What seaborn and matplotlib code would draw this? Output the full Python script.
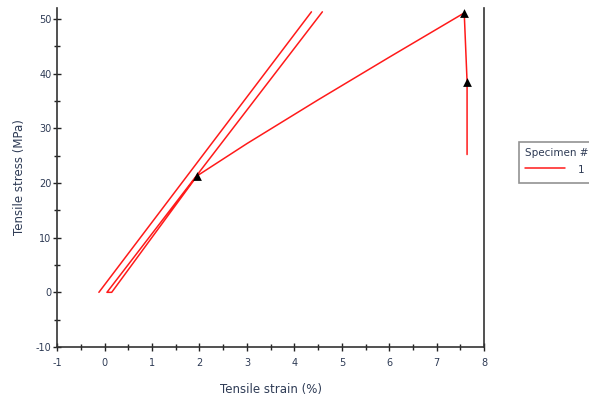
import numpy as np
import pandas as pd
import matplotlib
matplotlib.use("Agg")
import matplotlib.pyplot as plt
from matplotlib.ticker import MultipleLocator
import seaborn as sns

# Stress-strain path for specimen 1 (load / unload / reload to break)
# segment 0: first loading line, segment 1: unload + reload to break
strain = [-0.12, 4.36, 4.59, 0.05, 0.15, 1.95, 3.0, 4.5, 6.0, 7.58, 7.64, 7.64]
stress = [0.0, 51.3, 51.3, 0.0, 0.0, 21.3, 27.2, 35.2, 43.0, 51.1, 38.5, 25.2]
segment = [0, 0, 1, 1, 1, 1, 1, 1, 1, 1, 1, 1]

# Triangle markers on the curve
marker_strain = [1.95, 7.58, 7.64]
marker_stress = [21.3, 51.1, 38.5]

specimen = "1"

df = pd.DataFrame({"strain": strain, "stress": stress, "segment": segment,
                   "Specimen #": specimen})
marks = pd.DataFrame({"strain": marker_strain, "stress": marker_stress})

sns.set_style("ticks")
plt.rcParams["font.family"] = ["DejaVu Sans"]
plt.rcParams["axes.unicode_minus"] = False

text_col = "#2e3b55"
fig = plt.figure(figsize=(5.89, 4.0), dpi=100)
ax = fig.add_axes([0.097, 0.1325, 0.725, 0.8475])

sns.lineplot(data=df, x="strain", y="stress", hue="Specimen #", units="segment",
             palette=["#ff1a1a"], sort=False, estimator=None, linewidth=1.1, ax=ax)
sns.scatterplot(data=marks, x="strain", y="stress", marker="^", color="black",
                s=40, edgecolor="black", linewidth=0, ax=ax, zorder=5)

ax.set_xlim(-1, 8)
ax.set_ylim(-10, 52)
ax.xaxis.set_major_locator(MultipleLocator(1))
ax.xaxis.set_minor_locator(MultipleLocator(0.5))
ax.yaxis.set_major_locator(MultipleLocator(10))
ax.yaxis.set_minor_locator(MultipleLocator(5))
ax.tick_params(axis="both", which="both", direction="inout", colors="#222222",
               labelcolor=text_col, labelsize=7, width=1)
ax.tick_params(which="major", length=6)
ax.tick_params(which="minor", length=5)
ax.tick_params(axis="y", pad=1)
ax.tick_params(axis="x", pad=5)

for side in ["left", "bottom", "right"]:
    ax.spines[side].set_color("#333333")
    ax.spines[side].set_linewidth(1.2)
ax.spines["top"].set_visible(False)

ax.set_xlabel("Tensile strain (%)", fontsize=8.5, color=text_col, labelpad=11)
ax.set_ylabel("Tensile stress (MPa)", fontsize=8.5, color=text_col, labelpad=7)

leg = ax.legend(title="Specimen #", loc="upper left", bbox_to_anchor=(1.082, 0.605),
                fontsize=7.5, title_fontsize=7.5, frameon=True, fancybox=False,
                borderaxespad=0, borderpad=0.6, handlelength=3.8, handleheight=1.6,
                handletextpad=1.2, alignment="left")
leg.get_frame().set_edgecolor("#777777")
leg.get_frame().set_linewidth(1.2)
for t in leg.get_texts():
    t.set_color(text_col)
leg.get_title().set_color(text_col)

plt.savefig("out.png", dpi=100)
